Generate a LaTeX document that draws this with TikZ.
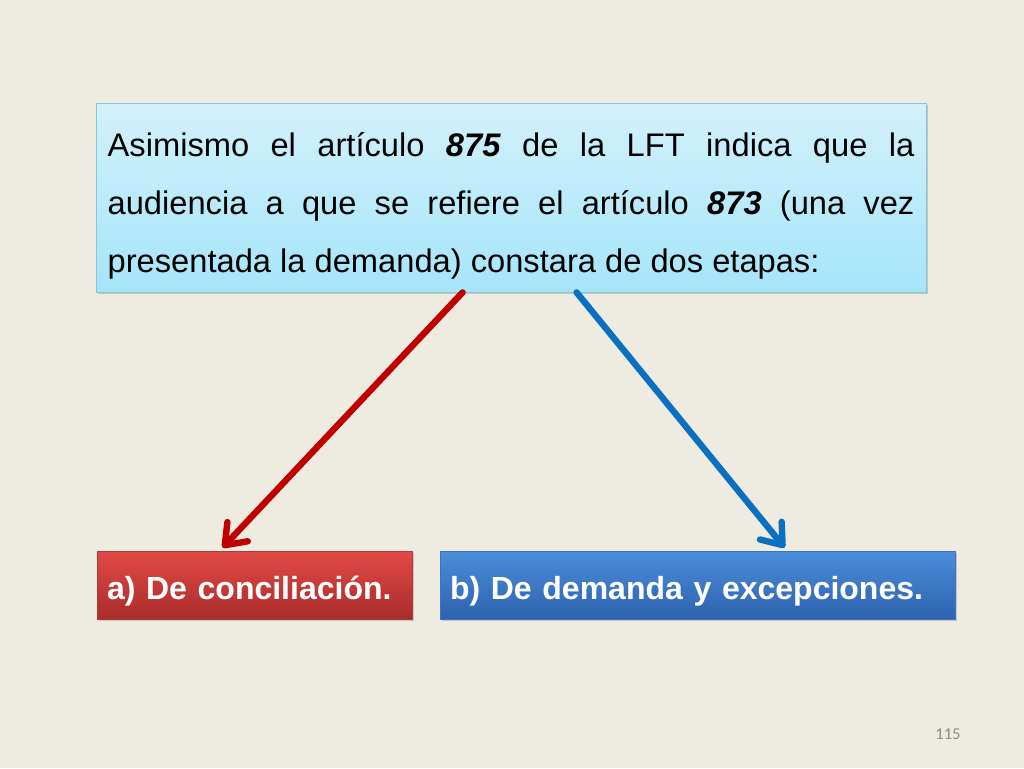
\documentclass[tikz,border=0pt]{standalone}
\usepackage{fontspec}
\setmainfont{Liberation Sans}
\newfontfamily\numfont{Carlito}
\usetikzlibrary{arrows.meta,shadows,calc}
\definecolor{bg}{HTML}{EEEBE1}
\definecolor{cyantop}{HTML}{D2F1FB}
\definecolor{cyanbot}{HTML}{A6E5FA}
\definecolor{cyanline}{HTML}{86C6D8}
\definecolor{redtop}{HTML}{E24A48}
\definecolor{redbot}{HTML}{A82C2A}
\definecolor{redline}{HTML}{B23A38}
\definecolor{bluetop}{HTML}{4C8EDA}
\definecolor{bluebot}{HTML}{2D62AE}
\definecolor{blueline}{HTML}{3E74BE}
\definecolor{arrred}{HTML}{C00000}
\definecolor{arrblue}{HTML}{0A70C2}
\definecolor{numgray}{HTML}{8C8C8C}
\tikzset{
  topbox/.style={draw=cyanline, line width=0.6pt, top color=cyantop, bottom color=cyanbot,
    drop shadow={shadow xshift=1.5pt, shadow yshift=-1.5pt, opacity=0.35},
    minimum width=622.5pt, minimum height=141.75pt, inner sep=0pt,
    text width=605pt, align=justify, font=\fontsize{24.5}{43.5}\selectfont},
  stagebox/.style={line width=0.6pt, drop shadow={shadow xshift=1.5pt, shadow yshift=-1.5pt, opacity=0.35},
    minimum height=51pt, inner xsep=7.5pt, inner ysep=0pt, align=left, text=white,
    font=\fontsize{24}{28}\selectfont\bfseries},
  redbox/.style={stagebox, draw=redline, top color=redtop, bottom color=redbot,
    minimum width=236.25pt, text width=221.25pt},
  bluebox/.style={stagebox, draw=blueline, top color=bluetop, bottom color=bluebot,
    minimum width=386.25pt, text width=371.25pt},
  conn/.style={line width=4.8pt, line cap=round,
    -{Straight Barb[length=14pt,width=21pt,line width=4.8pt,line cap=round,line join=round]}},
}
\begin{document}
\begin{tikzpicture}[x=0.75pt,y=-0.75pt]
\useasboundingbox[fill=bg] (0,0) rectangle (1024,768);
\node[topbox] (top) at (511,197.5) {\rule{0pt}{30pt}Asimismo el artículo \textbf{\textit{875}} de la LFT indica que la\linebreak
audiencia a que se refiere el artículo \textbf{\textit{873}} (una vez\linebreak
presentada la demanda) constara de dos etapas:};
\node[redbox] (a) at (254.5,585) {\raisebox{-10.5pt}[0pt][0pt]{a) De conciliación.}};
\node[bluebox] (b) at (697.5,585) {\raisebox{-10.5pt}[0pt][0pt]{b) De demanda y excepciones.}};
\coordinate (rs) at ($(top.south west)+(367,0)$);
\coordinate (bs) at ($(top.south west)+(481,0)$);
\coordinate (re) at ($(a.north west)+(126,-3)$);
\coordinate (be) at ($(b.north west)+(345,-3)$);
\draw[conn, arrred] (rs) -- (re);
\draw[conn, arrblue] (bs) -- (be);
\node[text=numgray, font=\numfont\fontsize{12.5}{14}\selectfont] (pg) at (948,734) {115};
\end{tikzpicture}
\end{document}
